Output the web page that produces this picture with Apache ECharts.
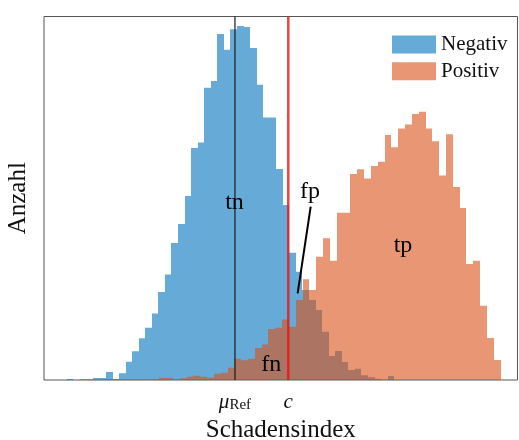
<!DOCTYPE html>
<html><head><meta charset="utf-8">
<script src="https://cdn.jsdelivr.net/npm/echarts@6/dist/echarts.min.js"></script>
<style>html,body{margin:0;padding:0;background:#fff;} #c{width:519px;height:440px;}</style>
</head><body><div id="c"></div>
<script>
// ---- data ----
const negStart = 3.466, negBinWidth = 1.0;
const negCounts = [1, 0, 0.7, 0.7, 2, 2, 8, 1, 6.7, 18.3,
  28.7, 41.7, 52.3, 66.5, 88, 105.5, 137, 156, 184, 232,
  237.5, 292.3, 299, 346, 330.3, 350.7, 354, 353, 332, 295.3,
  262.5, 262.5, 211, 175, 127.3, 108.3, 90, 80, 70, 48.3,
  24, 29, 18, 10, 11.3, 4.7, 2.7, 1.3, 0.3, 4];
const posStart = 17.60, posBinWidth = 1.0424;
const posCounts = [2.3, 2.3, 0, 1.7, 3.3, 4.3, 3.3, 2.3, 6.2, 7.2,
  12.2, 21.3, 19.7, 21.3, 32, 35.5, 51, 52.3, 60.5, 53.3,
  80, 100.7, 90, 123.3, 141.7, 119.3, 167.3, 167.3, 206, 210.7,
  201.5, 214, 218.3, 245, 232.8, 251.5, 255.5, 266, 268.2, 251.5,
  238.8, 204.5, 245.7, 193, 172, 116, 119.2, 74.2, 42, 20];
const muRef = 29.16, cutoff = 37.30;
const xTickValues = [muRef, cutoff];
const xTickLabels = ['{mu|μ}{sub|Ref}', '{c|c}'];
const seriesNames = ['Negativ', 'Positiv'];
const annoLabels = ['tn', 'fp', 'tp', 'fn'];
const annoX = [29.16, 40.69, 54.89, 34.76];
const annoY = [177, 188, 134, 15];
const fpPointer = [[40.72, 173.3], [38.73, 86.7]];
const xMin = 0, xMax = 72.3, yMin = 0, yMax = 363.5;

// ---- chart ----
const FONT = 'Liberation Serif';
const blue = 'rgba(0,113,188,0.6)';
const orange = 'rgba(217,80,22,0.6)';

function histSeries(name, start, w, counts, color) {
  return {
    type: 'custom', name, silent: true, clip: true, z: 2,
    itemStyle: { color },
    encode: { x: [0, 1], y: 2 },
    data: counts.map((v, i) => [start + i * w, start + (i + 1) * w, v]),
    renderItem(params, api) {
      const p0 = api.coord([api.value(0), api.value(2)]);
      const p1 = api.coord([api.value(1), 0]);
      const x0 = Math.round(p0[0]), x1 = Math.round(p1[0]);
      return { type: 'rect',
        shape: { x: x0, y: p0[1], width: x1 - x0, height: p1[1] - p0[1] },
        style: { fill: color } };
    }
  };
}

const chart = echarts.init(document.getElementById('c'), null, { renderer: 'canvas' });
chart.setOption({
  animation: false,
  backgroundColor: '#fff',
  textStyle: { fontFamily: FONT },
  grid: { left: 44, right: 1.5, top: 16.5, bottom: 60, show: true, borderColor: '#555', borderWidth: 1,
    backgroundColor: 'transparent', containLabel: false, outerBoundsMode: 'none' },
  legend: {
    data: seriesNames, orient: 'vertical', left: 392, top: 34, padding: 0,
    itemWidth: 44, itemHeight: 18, itemGap: 5.7, icon: 'rect',
    textStyle: { fontFamily: FONT, fontSize: 21, color: '#111', lineHeight: 18 },
    selectedMode: false
  },
  xAxis: {
    type: 'value', min: xMin, max: xMax,
    axisLine: { show: false }, axisTick: { show: false }, splitLine: { show: false },
    axisLabel: {
      customValues: xTickValues, margin: 12, color: '#111',
      formatter: (v) => {
        let best = 0;
        xTickValues.forEach((t, i) => { if (Math.abs(t - v) < Math.abs(xTickValues[best] - v)) best = i; });
        return xTickLabels[best];
      },
      rich: {
        mu: { fontFamily: FONT, fontStyle: 'italic', fontSize: 21, color: '#111' },
        sub: { fontFamily: FONT, fontSize: 15, color: '#111', verticalAlign: 'bottom', padding: [6, 0, 0, 0] },
        c: { fontFamily: FONT, fontStyle: 'italic', fontSize: 21, color: '#111' }
      }
    },
    name: 'Schadensindex', nameLocation: 'middle', nameGap: 37,
    nameTextStyle: { fontFamily: FONT, fontSize: 25, color: '#111' }
  },
  yAxis: {
    type: 'value', min: yMin, max: yMax,
    axisLine: { show: false }, axisTick: { show: false }, splitLine: { show: false }, axisLabel: { show: false },
    name: 'Anzahl', nameLocation: 'middle', nameGap: 13,
    nameTextStyle: { fontFamily: FONT, fontSize: 25, color: '#111' }
  },
  series: [
    histSeries(seriesNames[0], negStart, negBinWidth, negCounts, blue),
    histSeries(seriesNames[1], posStart, posBinWidth, posCounts, orange),
    { type: 'line', name: 'muRef', silent: true, symbol: 'none', z: 5,
      lineStyle: { color: '#1a1a1a', width: 1.2 },
      data: [[muRef, yMin], [muRef, yMax]] },
    { type: 'line', name: 'c', silent: true, symbol: 'none', z: 5,
      lineStyle: { color: 'rgba(235,20,20,0.8)', width: 2.5 },
      data: [[cutoff, yMin], [cutoff, yMax]] },
    { type: 'line', name: 'fpPointer', silent: true, symbol: 'none', z: 6,
      lineStyle: { color: '#000', width: 2 },
      data: fpPointer },
    { type: 'scatter', name: 'labels', silent: true, z: 7, symbolSize: 1,
      itemStyle: { color: 'rgba(0,0,0,0)' },
      label: { show: true, position: [0, 0], align: 'center', verticalAlign: 'middle',
        fontFamily: FONT, fontSize: 24, color: '#000', opacity: 1, textBorderWidth: 0,
        formatter: (p) => annoLabels[p.dataIndex] },
      data: annoX.map((x, i) => [x, annoY[i]]) }
  ]
});
</script></body></html>
